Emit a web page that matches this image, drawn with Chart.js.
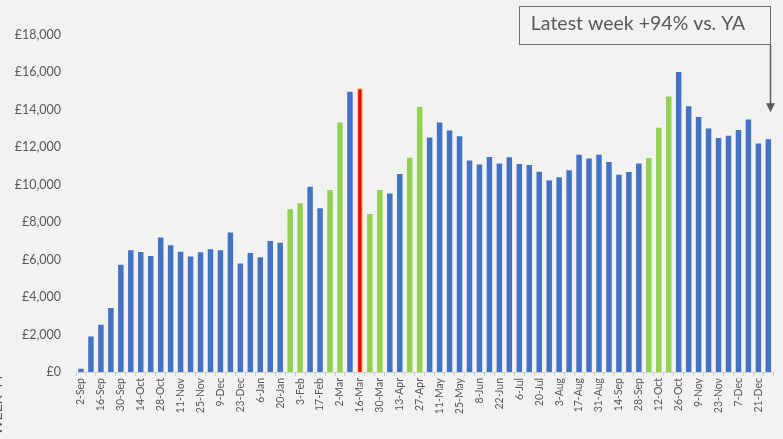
<!DOCTYPE html>
<html>
<head>
<meta charset="utf-8">
<script src="https://cdn.jsdelivr.net/npm/chart.js@4"></script>
<style>
  html, body { margin: 0; padding: 0; background: #f2f2f1; }
  #wrap { width: 783px; height: 439px; position: relative; }
</style>
</head>
<body>
<div id="wrap"><canvas id="salesChart"></canvas></div>
<script>
// weekly sales, week commencing
const weeks = [
    "2-Sep", "9-Sep", "16-Sep", "23-Sep", "30-Sep", "7-Oct", "14-Oct", "21-Oct", "28-Oct", "4-Nov",
    "11-Nov", "18-Nov", "25-Nov", "2-Dec", "9-Dec", "16-Dec", "23-Dec", "30-Dec", "6-Jan", "13-Jan",
    "20-Jan", "27-Jan", "3-Feb", "10-Feb", "17-Feb", "24-Feb", "2-Mar", "9-Mar", "16-Mar", "23-Mar",
    "30-Mar", "6-Apr", "13-Apr", "20-Apr", "27-Apr", "4-May", "11-May", "18-May", "25-May", "1-Jun",
    "8-Jun", "15-Jun", "22-Jun", "29-Jun", "6-Jul", "13-Jul", "20-Jul", "27-Jul", "3-Aug", "10-Aug",
    "17-Aug", "24-Aug", "31-Aug", "7-Sep", "14-Sep", "21-Sep", "28-Sep", "5-Oct", "12-Oct", "19-Oct",
    "26-Oct", "2-Nov", "9-Nov", "16-Nov", "23-Nov", "30-Nov", "7-Dec", "14-Dec", "21-Dec", "28-Dec"
];

const sales = [
    180, 1900, 2530, 3420, 5730, 6500, 6410, 6190, 7180, 6770,
    6420, 6170, 6390, 6550, 6500, 7450, 5800, 6360, 6130, 7000,
    6910, 8690, 9010, 9890, 8740, 9720, 13320, 14970, 15150, 8440,
    9720, 9540, 10580, 11450, 14150, 12520, 13330, 12900, 12590, 11300,
    11080, 11480, 11130, 11470, 11110, 11050, 10700, 10230, 10400, 10770,
    11610, 11410, 11610, 11220, 10540, 10680, 11130, 11430, 13050, 14710,
    16020, 14190, 13620, 13010, 12500, 12620, 12920, 13490, 12210, 12430
];

// weeks with activity running (green) and the record week (red)
const promoWeeks = [21, 22, 25, 26, 29, 30, 33, 34, 57, 58, 59];
const peakWeek = 28;

const yTicks = [0, 2000, 4000, 6000, 8000, 10000, 12000, 14000, 16000, 18000];
const calloutText = "Latest week +94% vs. YA";
const sideText = "Week 44";

const BLUE = "#4472C4", GREEN = "#92D050", RED = "#FF0000", GOLD = "#FFC000";
const TEXT = "#595959";
const FONT = "Lato, 'Open Sans', sans-serif";

const barColors = sales.map((_, i) =>
    i === peakWeek ? RED : (promoWeeks.includes(i) ? GREEN : BLUE));

const backdrop = {
    id: "backdrop",
    beforeDraw(chart) {
        const ctx = chart.ctx;
        ctx.save();
        ctx.fillStyle = "#f2f2f1";
        ctx.fillRect(0, 0, chart.width, chart.height);
        ctx.restore();
    }
};

// callout box with an arrow down to the latest week
const callout = {
    id: "callout",
    afterDraw(chart) {
        const ctx = chart.ctx;
        const x = chart.scales.x, y = chart.scales.y;
        const last = sales.length - 1;
        const ax = Math.round(x.getPixelForValue(last)) + 2.5;
        const tipY = y.getPixelForValue(sales[last]) - 27;
        const boxL = 519.5, boxT = 6.5, boxB = 44.5;

        ctx.save();
        ctx.fillStyle = "#f2f2f1";
        ctx.fillRect(boxL, boxT, ax - boxL, boxB - boxT);
        ctx.strokeStyle = "#6f6f6f";
        ctx.lineWidth = 1;
        ctx.strokeRect(boxL, boxT, ax - boxL, boxB - boxT);

        ctx.fillStyle = TEXT;
        ctx.font = "19.5px " + FONT;
        ctx.textAlign = "center";
        ctx.textBaseline = "middle";
        ctx.fillText(calloutText, (boxL + ax) / 2 - 7, 24);

        ctx.strokeStyle = "#5a5a5a";
        ctx.lineWidth = 1.5;
        ctx.beginPath();
        ctx.moveTo(ax, boxB);
        ctx.lineTo(ax, tipY - 8);
        ctx.stroke();
        ctx.fillStyle = "#5a5a5a";
        ctx.beginPath();
        ctx.moveTo(ax - 4.5, tipY - 9);
        ctx.lineTo(ax + 4.5, tipY - 9);
        ctx.lineTo(ax, tipY);
        ctx.closePath();
        ctx.fill();

        // side label, mostly off the left edge
        ctx.translate(2, 405);
        ctx.rotate(-Math.PI / 2);
        ctx.fillStyle = "#555";
        ctx.font = "14px " + FONT;
        ctx.textAlign = "center";
        ctx.textBaseline = "alphabetic";
        ctx.fillText(sideText.toUpperCase(), 0, 0);
        ctx.restore();
    }
};

new Chart(document.getElementById("salesChart"), {
    type: "bar",
    data: {
        labels: weeks,
        datasets: [{
            data: sales,
            backgroundColor: barColors,
            borderColor: sales.map((_, i) => i === peakWeek ? GOLD : "rgba(0,0,0,0)"),
            borderWidth: sales.map((_, i) => i === peakWeek ? 1 : 0),
            barPercentage: 0.55,
            categoryPercentage: 1
        }]
    },
    options: {
        responsive: true,
        maintainAspectRatio: false,
        animation: false,
        layout: { padding: { top: 35, right: 7, bottom: 0, left: 0 } },
        plugins: {
            legend: { display: false },
            tooltip: { enabled: false }
        },
        scales: {
            x: {
                grid: {
                    display: true,
                    drawOnChartArea: false,
                    drawTicks: true,
                    tickLength: 4,
                    color: "#d0d0d0"
                },
                border: { display: true, color: "#d0d0d0" },
                ticks: {
                    autoSkip: false,
                    minRotation: 90,
                    maxRotation: 90,
                    padding: 2,
                    color: TEXT,
                    font: { family: FONT, size: 10.5 },
                    callback: (v, i) => i % 2 === 0 ? weeks[i] : ""
                },
                afterFit: s => { s.height = 67; }
            },
            y: {
                min: 0,
                max: 18000,
                grid: { display: false },
                border: { display: false },
                afterBuildTicks: s => { s.ticks = yTicks.map(v => ({ value: v })); },
                ticks: {
                    padding: 7,
                    color: TEXT,
                    font: { family: FONT, size: 12.5 },
                    callback: v => "£" + v.toLocaleString("en-GB")
                },
                afterFit: s => { s.width = 76; }
            }
        }
    },
    plugins: [backdrop, callout]
});
</script>
</body>
</html>
